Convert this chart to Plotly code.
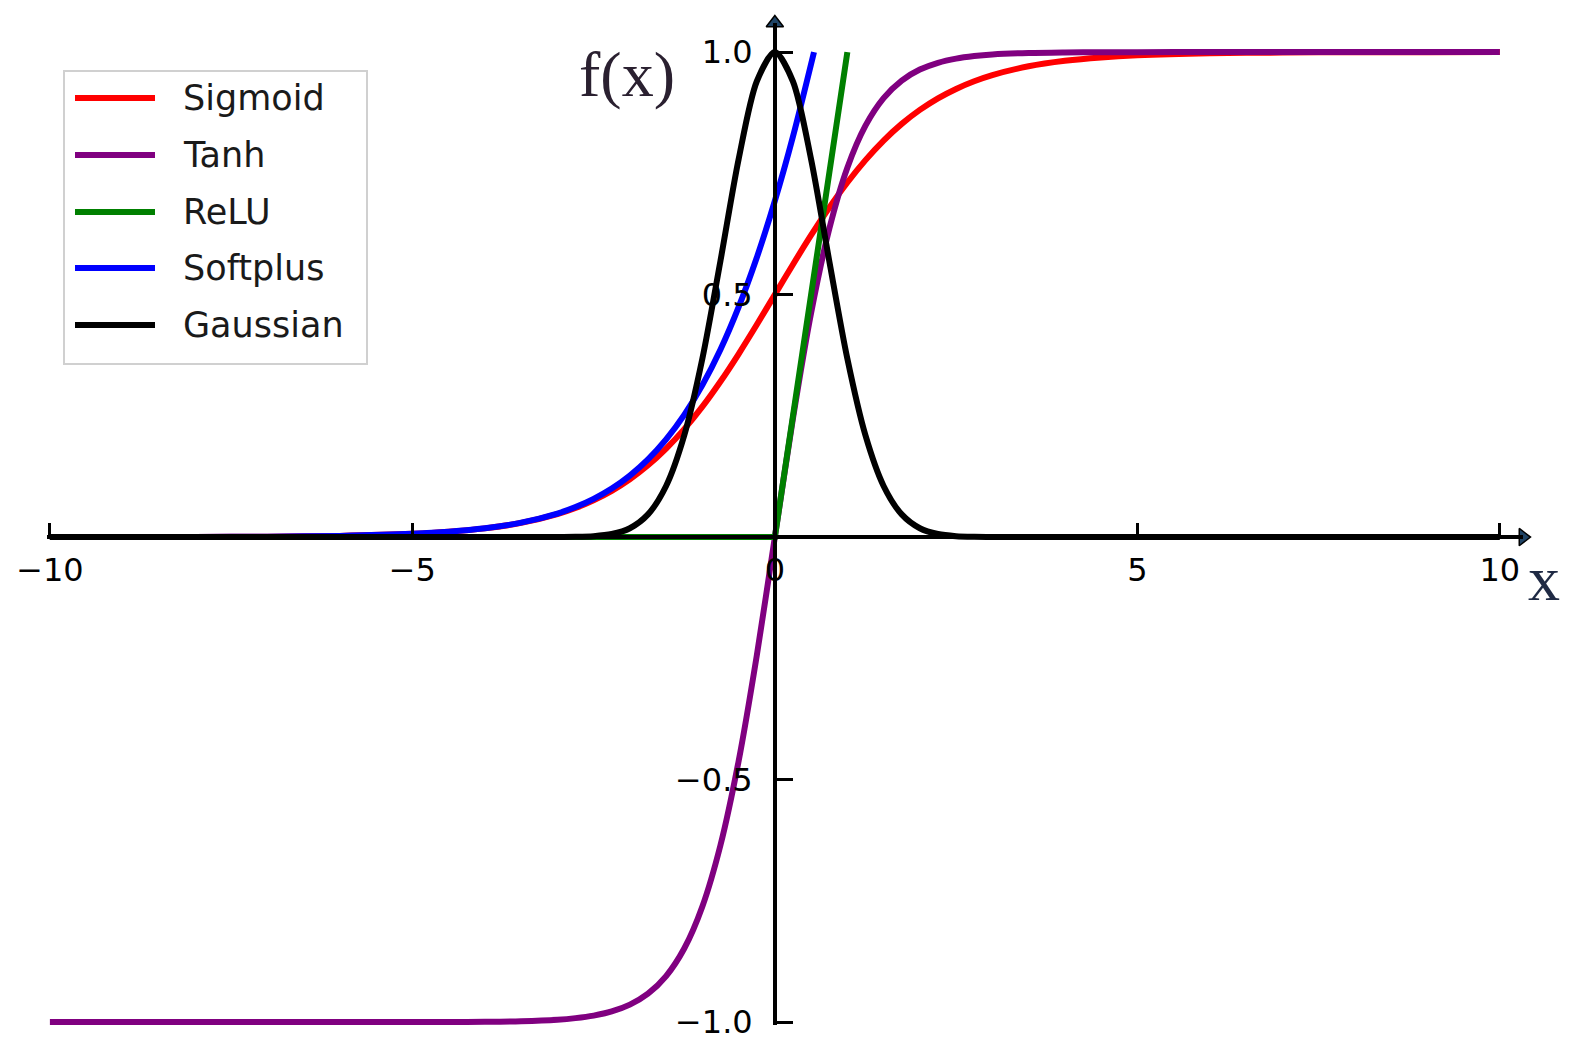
import plotly.graph_objects as go

# ---------------- data ----------------
series_names = ["Sigmoid", "Tanh", "ReLU", "Softplus", "Gaussian"]
series_colors = ["#ff0000", "#800080", "#008000", "#0000ff", "#000000"]

x_grid = [-10, -9, -8, -7, -6, -5, -4.5, -4, -3.5, -3, -2.75, -2.5, -2.25, -2,
          -1.75, -1.5, -1.25, -1, -0.75, -0.5, -0.25, 0, 0.25, 0.5, 0.75, 1,
          1.25, 1.5, 1.75, 2, 2.25, 2.5, 2.75, 3, 3.5, 4, 4.5, 5, 6, 7, 8, 9, 10]

sigmoid_y = [0.0000, 0.0001, 0.0003, 0.0009, 0.0025, 0.0067, 0.0110, 0.0180, 0.0293,
             0.0474, 0.0601, 0.0759, 0.0953, 0.1192, 0.1480, 0.1824, 0.2227, 0.2689,
             0.3208, 0.3775, 0.4378, 0.5000, 0.5622, 0.6225, 0.6792, 0.7311, 0.7773,
             0.8176, 0.8520, 0.8808, 0.9047, 0.9241, 0.9399, 0.9526, 0.9707, 0.9820,
             0.9890, 0.9933, 0.9975, 0.9991, 0.9997, 0.9999, 1.0000]

tanh_y = [-1.0000, -1.0000, -1.0000, -1.0000, -1.0000, -0.9999, -0.9998, -0.9993,
          -0.9982, -0.9951, -0.9918, -0.9866, -0.9780, -0.9640, -0.9414, -0.9051,
          -0.8483, -0.7616, -0.6351, -0.4621, -0.2449, 0.0000, 0.2449, 0.4621,
          0.6351, 0.7616, 0.8483, 0.9051, 0.9414, 0.9640, 0.9780, 0.9866, 0.9918,
          0.9951, 0.9982, 0.9993, 0.9998, 0.9999, 1.0000, 1.0000, 1.0000, 1.0000, 1.0000]

gauss_y = [0.0000, 0.0000, 0.0000, 0.0000, 0.0000, 0.0000, 0.0000, 0.0000, 0.0000,
           0.0001, 0.0005, 0.0019, 0.0063, 0.0183, 0.0468, 0.1054, 0.2096, 0.3679,
           0.5698, 0.7788, 0.9394, 1.0000, 0.9394, 0.7788, 0.5698, 0.3679, 0.2096,
           0.1054, 0.0468, 0.0183, 0.0063, 0.0019, 0.0005, 0.0001, 0.0000, 0.0000,
           0.0000, 0.0000, 0.0000, 0.0000, 0.0000, 0.0000, 0.0000]

softplus_x = [-10, -9, -8, -7, -6, -5, -4.5, -4, -3.5, -3, -2.75, -2.5, -2.25, -2,
              -1.75, -1.5, -1.25, -1, -0.75, -0.5, -0.25, 0, 0.25, 0.54]
softplus_y = [0.0000, 0.0001, 0.0003, 0.0009, 0.0025, 0.0067, 0.0110, 0.0181, 0.0298,
              0.0486, 0.0620, 0.0789, 0.1002, 0.1269, 0.1602, 0.2014, 0.2519, 0.3133,
              0.3868, 0.4741, 0.5759, 0.6931, 0.8259, 1.0000]

relu_x = [-10, 0, 1]
relu_y = [0, 0, 1]

x_ticks = [-10, -5, 0, 5, 10]
x_tick_text = ["\u221210", "\u22125", "0", "5", "10"]
y_ticks = [-1.0, -0.5, 0.5, 1.0]
y_tick_text = ["\u22121.0", "\u22120.5", "0.5", "1.0"]

# ---------------- layout geometry ----------------
# the page body adds an 8px offset, so the figure is 8px smaller and margins shifted
OFF = 8
W, H = 1574 - OFF, 1048 - OFF
PL, PR, PT, PB = 47, 1523, 23, 1025          # plot area in page pixels
ML, MT = PL - OFF, PT - OFF
MR, MB = (W + OFF) - PR, (H + OFF) - PB
XR = [-10.04, 10.32]
YR = [-1.006, 1.06]
PW = PR - PL
PH = PB - PT


def px_to_paper(px, py):
    return (px - PL) / PW, (PB - py) / PH


fig = go.Figure()

series = [
    (x_grid, sigmoid_y, "spline"),
    (x_grid, tanh_y, "spline"),
    (relu_x, relu_y, "linear"),
    (softplus_x, softplus_y, "spline"),
    (x_grid, gauss_y, "spline"),
]
for (xs, ys, shp), name, col in zip(series, series_names, series_colors):
    fig.add_trace(go.Scatter(
        x=xs, y=ys, mode="lines", name=name,
        line=dict(color=col, width=6, shape=shp, smoothing=0.8),
        showlegend=False, hoverinfo="skip"))

# arrow heads at the ends of the spines
fig.add_trace(go.Scatter(
    x=[XR[1], 0], y=[0, YR[1]], mode="markers",
    marker=dict(symbol=["triangle-right", "triangle-up"], size=15,
                color="#1f4466", line=dict(color="#000000", width=1.5)),
    cliponaxis=False, showlegend=False, hoverinfo="skip"))

x_pos = (0 - YR[0]) / (YR[1] - YR[0])
y_pos = (0 - XR[0]) / (XR[1] - XR[0])

tick_font = dict(family="DejaVu Sans", size=32, color="#000000")

fig.update_layout(
    template="none",
    width=W, height=H,
    margin=dict(l=ML, r=MR, t=MT, b=MB, autoexpand=False),
    paper_bgcolor="white", plot_bgcolor="white",
    showlegend=False,
    xaxis=dict(range=XR, anchor="free", position=x_pos, showgrid=False,
               zeroline=False, showline=True, linecolor="black", linewidth=4,
               ticks="inside", ticklen=12, tickwidth=3, tickcolor="black",
               tickvals=x_ticks, ticktext=x_tick_text, tickfont=tick_font,
               layer="above traces", ticklabelstandoff=4, automargin=False),
    yaxis=dict(range=YR, anchor="free", position=y_pos, showgrid=False,
               zeroline=False, showline=True, linecolor="black", linewidth=3.5,
               ticks="inside", ticklen=16, tickwidth=3, tickcolor="black",
               tickvals=y_ticks, ticktext=y_tick_text, tickfont=tick_font,
               layer="above traces", ticklabelstandoff=14, automargin=False),
)

# axis labels
fig.add_annotation(x=-2.04, y=0.953, xref="x", yref="y", text="f(x)",
                   showarrow=False, xanchor="center", yanchor="middle",
                   font=dict(family="Liberation Serif", size=64, color="#2a2030"))
lx, ly = px_to_paper(1544, 578)
fig.add_annotation(x=lx, y=ly, xref="paper", yref="paper", text="x",
                   showarrow=False, xanchor="center", yanchor="middle",
                   font=dict(family="Liberation Serif", size=64, color="#1f2a44"))

# custom legend (box, sample lines, labels)
bx0, by0 = px_to_paper(64, 364)
bx1, by1 = px_to_paper(367, 71)
fig.add_shape(type="rect", xref="paper", yref="paper", x0=bx0, y0=by0, x1=bx1, y1=by1,
              line=dict(color="#d0d0d0", width=2), fillcolor="rgba(255,255,255,0.85)",
              layer="above")
row_y = [98, 155, 212, 268, 325]
for name, col, ry in zip(series_names, series_colors, row_y):
    sx0, sy = px_to_paper(75, ry)
    sx1, _ = px_to_paper(155, ry)
    fig.add_shape(type="line", xref="paper", yref="paper", x0=sx0, x1=sx1, y0=sy, y1=sy,
                  line=dict(color=col, width=6), layer="above")
    tx, ty = px_to_paper(181, ry)
    fig.add_annotation(x=tx, y=ty, xref="paper", yref="paper", text=name,
                       showarrow=False, xanchor="left", yanchor="middle",
                       font=dict(family="DejaVu Sans", size=35, color="#1a1a1a"))

fig.write_html("out.html")
